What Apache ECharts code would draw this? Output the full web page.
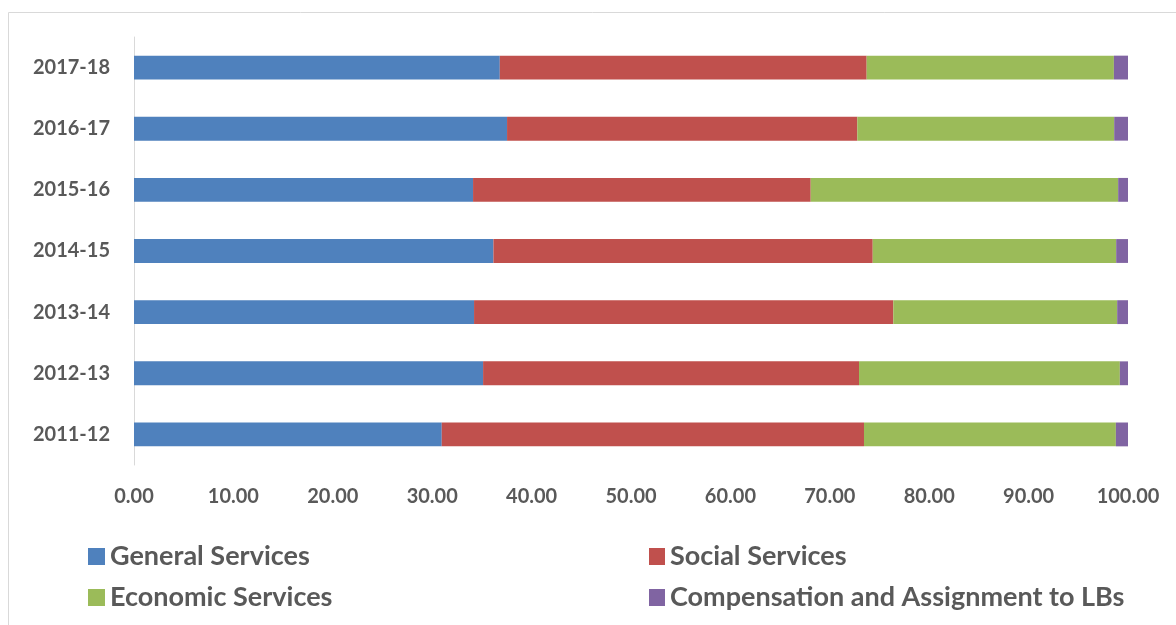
<!DOCTYPE html>
<html>
<head>
<meta charset="utf-8">
<script src="https://cdn.jsdelivr.net/npm/echarts@6/dist/echarts.min.js"></script>
<style>
  html, body { margin: 0; padding: 0; background: #fff; }
  #chart { width: 1176px; height: 625px; }
</style>
</head>
<body>
<div id="chart"></div>
<script>
// years, bottom to top
const years = ['2011-12', '2012-13', '2013-14', '2014-15', '2015-16', '2016-17', '2017-18']
const generalServices = [30.96, 35.12, 34.21, 36.16, 34.11, 37.53, 36.80]
const socialServices = [42.48, 37.82, 42.18, 38.16, 33.97, 35.24, 36.91]
const economicServices = [25.34, 26.24, 22.52, 24.49, 30.93, 25.84, 24.87]
const compensationLBs = [1.22, 0.82, 1.09, 1.19, 0.99, 1.39, 1.42]

const labelColor = '#595959'
const fontFamily = 'Lato, "Open Sans", sans-serif'

const chart = echarts.init(document.getElementById('chart'))

function bar(name, data, color) {
  return {
    name: name,
    type: 'bar',
    stack: 'total',
    barCategoryGap: '61%',
    itemStyle: { color: color },
    emphasis: { disabled: true },
    data: data
  }
}

const legendText = {
  color: labelColor,
  fontFamily: fontFamily,
  fontWeight: 'bold',
  fontSize: 27,
  lineHeight: 27
}

chart.setOption({
  animation: false,
  graphic: [{
    type: 'rect',
    shape: { x: 8.5, y: 12.5, width: 1300, height: 700 },
    style: { fill: 'none', stroke: '#d9d9d9', lineWidth: 1 },
    silent: true
  }],
  grid: {
    left: 134,
    right: 48,
    top: 37,
    height: 428
  },
  xAxis: {
    type: 'value',
    min: 0,
    max: 100,
    interval: 10,
    axisLine: { show: false },
    axisTick: { show: false },
    splitLine: { show: false },
    axisLabel: {
      margin: 22,
      color: labelColor,
      fontFamily: fontFamily,
      fontWeight: 'bold',
      fontSize: 20,
      formatter: v => v.toFixed(2)
    }
  },
  yAxis: {
    type: 'category',
    data: years,
    axisLine: { show: true, lineStyle: { color: '#d9d9d9', width: 1 } },
    axisTick: { show: false },
    axisLabel: {
      margin: 24,
      color: labelColor,
      fontFamily: fontFamily,
      fontWeight: 'bold',
      fontSize: 20
    }
  },
  legend: [{
    left: 88,
    top: 543,
    padding: 0,
    orient: 'vertical',
    itemWidth: 17,
    itemHeight: 17,
    itemGap: 14,
    icon: 'rect',
    selectedMode: false,
    textStyle: legendText,
    data: ['General Services', 'Economic Services']
  }, {
    left: 649,
    top: 543,
    padding: 0,
    orient: 'vertical',
    itemWidth: 16,
    itemHeight: 17,
    itemGap: 14,
    icon: 'rect',
    selectedMode: false,
    textStyle: legendText,
    data: ['Social Services', 'Compensation and Assignment to LBs']
  }],
  series: [
    bar('General Services', generalServices, '#4F81BD'),
    bar('Social Services', socialServices, '#C0504D'),
    bar('Economic Services', economicServices, '#9BBB59'),
    bar('Compensation and Assignment to LBs', compensationLBs, '#8064A2')
  ]
})
</script>
</body>
</html>
